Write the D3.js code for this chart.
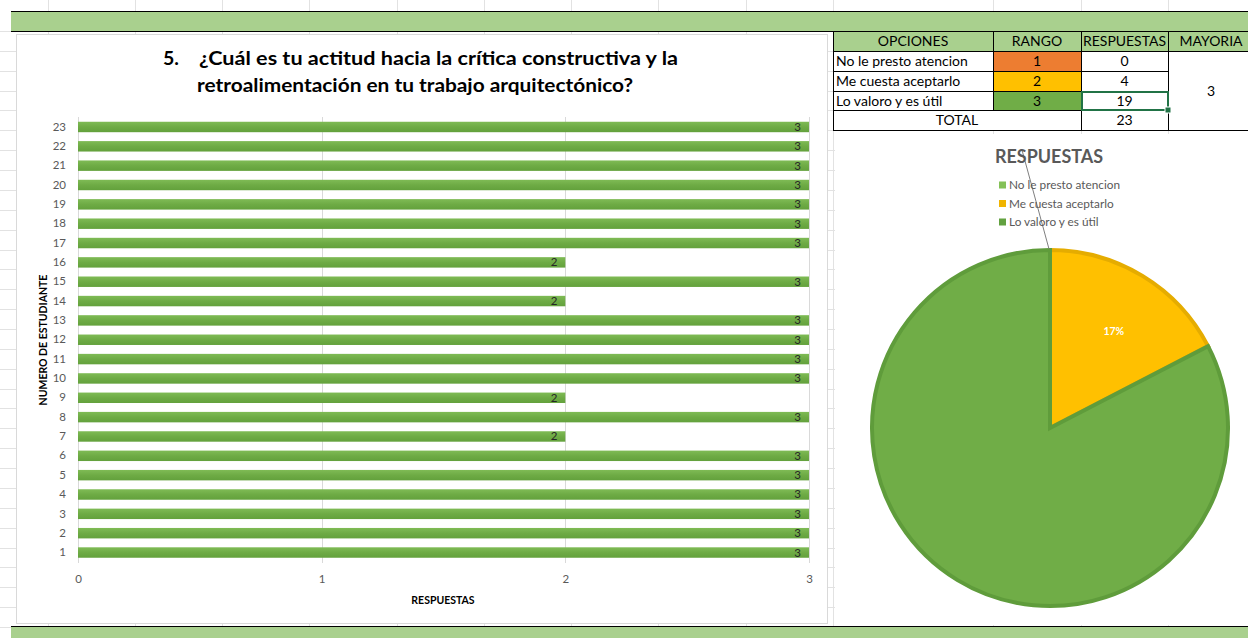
<!DOCTYPE html>
<html><head><meta charset="utf-8">
<script src="https://cdn.jsdelivr.net/npm/d3@7"></script>
<style>
body{margin:0;background:#fff}
svg{display:block}
text{font-family:Lato,"Open Sans",sans-serif}
</style>
</head><body>
<svg id="sheet" width="1248" height="638"></svg>
<script>
// Survey question 5: one bar per student, plus the summary table and pie
const students = ["1","2","3","4","5","6","7","8","9","10","11","12","13","14","15","16","17","18","19","20","21","22","23"];
const studentAnswers = [3,3,3,3,3,3,2,3,2,3,3,3,3,2,3,2,3,3,3,3,3,3,3];
const answerTicks = [0,1,2,3];

const optionLabels = ["No le presto atencion","Me cuesta aceptarlo","Lo valoro y es útil"];
const optionRanks = [1,2,3];
const optionCounts = [0,4,19];
const totalCount = 23;
const majorityRank = 3;

const rankColors = ["#ed7d31","#ffc000","#70ad47"];
const pieFill = ["#8cc65c","#ffc000","#70ad47"];
const pieEdge = ["#7db54e","#e5ac00","#5f9c3b"];
const legendColors = ["#84c157","#f0b400","#62a140"];

const svg = d3.select("#sheet");
svg.append("rect").attr("width",1248).attr("height",638).attr("fill","#fff");

// ---- spreadsheet grid behind the charts ----
const colEdges = [47.7,135,222,309,397,484,571,658,746,833,993,1081,1168];
const rowTop = 31, rowH = (627-31)/30;
const rowEdges = d3.range(0,31).map(i => rowTop + i*rowH);
const grid = svg.append("g").attr("stroke","#e2e2e2").attr("stroke-width",1);
colEdges.forEach(x => grid.append("line").attr("x1",Math.round(x)+0.5).attr("x2",Math.round(x)+0.5).attr("y1",0).attr("y2",638));
rowEdges.forEach(y => grid.append("line").attr("x1",0).attr("x2",1248).attr("y1",Math.round(y)+0.5).attr("y2",Math.round(y)+0.5));

// green bands
svg.append("rect").attr("x",11).attr("y",11).attr("width",1237).attr("height",20.5).attr("fill","#a9d08e");
svg.append("line").attr("x1",11).attr("x2",1248).attr("y1",11.5).attr("y2",11.5).attr("stroke","#000");
svg.append("line").attr("x1",11).attr("x2",1248).attr("y1",31.5).attr("y2",31.5).attr("stroke","#000");
svg.append("rect").attr("x",11).attr("y",626).attr("width",1237).attr("height",12).attr("fill","#a9d08e");
svg.append("line").attr("x1",11).attr("x2",1248).attr("y1",626.5).attr("y2",626.5).attr("stroke","#000");

// ---- bar chart ----
svg.append("rect").attr("x",16.5).attr("y",34.5).attr("width",811).attr("height",589)
  .attr("fill","#fff").attr("stroke","#d9d9d9");

const defs = svg.append("defs");
const grad = defs.append("linearGradient").attr("id","barFill").attr("x1",0).attr("x2",0).attr("y1",0).attr("y2",1);
grad.append("stop").attr("offset","0%").attr("stop-color","#7fbb55");
grad.append("stop").attr("offset","50%").attr("stop-color","#6eab45");
grad.append("stop").attr("offset","100%").attr("stop-color","#63a13c");

const x = d3.scaleLinear().domain([0,3]).range([78,809]);
const y = d3.scaleBand().domain(students.slice().reverse()).range([117.3,562.2])
  .paddingInner(0.46).paddingOuter(0.23);

const bars = svg.append("g");
bars.selectAll("line.gx").data(answerTicks).join("line")
  .attr("x1",d=>Math.round(x(d))+0.5).attr("x2",d=>Math.round(x(d))+0.5)
  .attr("y1",117).attr("y2",563).attr("stroke","#d9d9d9");

const rows = students.map((s,i)=>({s, v:studentAnswers[i]}));
bars.selectAll("rect.bar").data(rows).join("rect")
  .attr("x",x(0)).attr("y",d=>y(d.s)).attr("width",d=>x(d.v)-x(0)).attr("height",y.bandwidth())
  .attr("fill","url(#barFill)");
bars.selectAll("text.val").data(rows).join("text")
  .attr("x",d=>x(d.v)-8).attr("y",d=>y(d.s)+y.bandwidth()/2+4)
  .attr("text-anchor","end").attr("font-size",11.5).attr("fill","#262626").text(d=>d.v);

// axes
const xAxis = svg.append("g").attr("transform","translate(0,572)")
  .call(d3.axisBottom(x).tickValues(answerTicks).tickSize(0).tickFormat(d3.format("d")));
xAxis.select(".domain").remove();
xAxis.selectAll("text").attr("font-size",11.5).attr("fill","#595959").attr("font-family","Lato");

const yAxis = svg.append("g").attr("transform","translate(69,0)")
  .call(d3.axisLeft(y).tickSize(0));
yAxis.select(".domain").remove();
yAxis.selectAll("text").attr("font-size",11.5).attr("fill","#595959").attr("font-family","Lato");

svg.append("text").attr("x",443).attr("y",604).attr("text-anchor","middle")
  .attr("font-size",10.5).attr("font-weight","bold").attr("fill","#000").text("RESPUESTAS");
svg.append("text").attr("transform","translate(47,340) rotate(-90)").attr("text-anchor","middle")
  .attr("font-size",10.5).attr("font-weight","bold").attr("fill","#000").text("NUMERO DE ESTUDIANTE");

// title
svg.append("text").attr("x",163).attr("y",65).attr("font-size",19.5).attr("font-weight","bold")
  .attr("fill","#000").text("5.");
svg.append("text").attr("x",199).attr("y",65).attr("font-size",19.5).attr("font-weight","bold")
  .attr("fill","#000").attr("textLength",479).attr("lengthAdjust","spacingAndGlyphs")
  .text("¿Cuál es tu actitud hacia la crítica constructiva y la");
svg.append("text").attr("x",197).attr("y",92).attr("font-size",19.5).attr("font-weight","bold")
  .attr("fill","#000").attr("textLength",436).attr("lengthAdjust","spacingAndGlyphs")
  .text("retroalimentación en tu trabajo arquitectónico?");

// ---- summary table ----
const tc = [833,993,1081,1168,1252];
const tr = rowEdges.slice(0,6);
const table = svg.append("g");
function cell(x0,x1,y0,y1,fill){
  table.append("rect").attr("x",Math.round(x0)+0.5).attr("y",Math.round(y0)+0.5)
    .attr("width",Math.round(x1)-Math.round(x0)).attr("height",Math.round(y1)-Math.round(y0))
    .attr("fill",fill).attr("stroke","#000");
}
function label(t,xp,yc,anchor){
  table.append("text").attr("x",xp).attr("y",yc+5).attr("text-anchor",anchor||"middle")
    .attr("font-size",14).attr("fill","#000").text(t);
}
const heads = ["OPCIONES","RANGO","RESPUESTAS","MAYORIA"];
heads.forEach((h,i)=>{
  cell(tc[i],tc[i+1],tr[0],tr[1],"#a9d08e");
  const t = table.append("text").attr("x",(tc[i]+tc[i+1])/2 + (i===3?1:0)).attr("y",(tr[0]+tr[1])/2+5)
    .attr("text-anchor","middle").attr("font-size",14).attr("fill","#000").text(h);
  if (i===2) t.attr("textLength",83).attr("lengthAdjust","spacingAndGlyphs");
});
optionLabels.forEach((o,i)=>{
  const y0 = tr[i+1], y1 = tr[i+2], yc=(y0+y1)/2;
  cell(tc[0],tc[1],y0,y1,"#fff"); label(o,tc[0]+3,yc,"start");
  cell(tc[1],tc[2],y0,y1,rankColors[i]); label(optionRanks[i],(tc[1]+tc[2])/2,yc);
  cell(tc[2],tc[3],y0,y1,"#fff"); label(optionCounts[i],(tc[2]+tc[3])/2,yc);
});
cell(tc[0],tc[2],tr[4],tr[5],"#fff"); label("TOTAL",(tc[0]+tc[2])/2,(tr[4]+tr[5])/2);
cell(tc[2],tc[3],tr[4],tr[5],"#fff"); label(totalCount,(tc[2]+tc[3])/2,(tr[4]+tr[5])/2);
cell(tc[3],tc[4],tr[1],tr[5],"#fff"); label(majorityRank,(tc[3]+tc[4])/2 + 1,(tr[1]+tr[5])/2);
// active-cell outline
table.append("rect").attr("x",tc[2]+1).attr("y",Math.round(tr[3])+1).attr("width",tc[3]-tc[2]-1)
  .attr("height",Math.round(tr[4])-Math.round(tr[3])-1).attr("fill","none").attr("stroke","#217346").attr("stroke-width",2);
table.append("rect").attr("x",tc[3]-3).attr("y",Math.round(tr[4])-3).attr("width",6).attr("height",6)
  .attr("fill","#217346").attr("stroke","#fff");

// ---- pie chart ----
svg.append("rect").attr("x",835).attr("y",134).attr("width",413).attr("height",491).attr("fill","#fff");
const cx = 1050, cy = 428, r = 180;
const pie = d3.pie().sort(null).value(d=>d.n)(optionLabels.map((o,i)=>({o,n:optionCounts[i],i})));
const arc = d3.arc().innerRadius(0).outerRadius(r-2);
const pg = svg.append("g").attr("transform",`translate(${cx},${cy})`);
pg.selectAll("path").data(pie.filter(d=>d.data.n>0)).join("path")
  .attr("d",arc).attr("fill",d=>pieFill[d.data.i]).attr("stroke",d=>pieEdge[d.data.i])
  .attr("stroke-width",4).attr("stroke-linejoin","miter");
const labelArc = d3.arc().innerRadius(r*0.65).outerRadius(r*0.65);
pg.selectAll("text").data(pie.filter(d=>d.data.i===1)).join("text")
  .attr("transform",d=>`translate(${labelArc.centroid(d)})`).attr("dx",3).attr("dy",7)
  .attr("text-anchor","middle").attr("font-size",10.5).attr("font-weight","bold").attr("fill","#fff")
  .text(d=>d3.format(".0%")(d.data.n/totalCount));

// leader line of the empty slice
svg.append("line").attr("x1",1022).attr("y1",150).attr("x2",1049).attr("y2",249)
  .attr("stroke","#7f7f7f").attr("stroke-width",1);

svg.append("text").attr("x",995).attr("y",163).attr("font-size",19).attr("font-weight","bold")
  .attr("fill","#595959").attr("textLength",108).attr("lengthAdjust","spacingAndGlyphs").text("RESPUESTAS");
const leg = svg.append("g");
optionLabels.forEach((o,i)=>{
  const yy = 185 + i*18.5;
  leg.append("rect").attr("x",999).attr("y",yy-3.5).attr("width",7).attr("height",7).attr("fill",legendColors[i]);
  leg.append("text").attr("x",1009).attr("y",yy+4).attr("font-size",11.8).attr("fill","#595959").text(o);
});
</script>
</body></html>
